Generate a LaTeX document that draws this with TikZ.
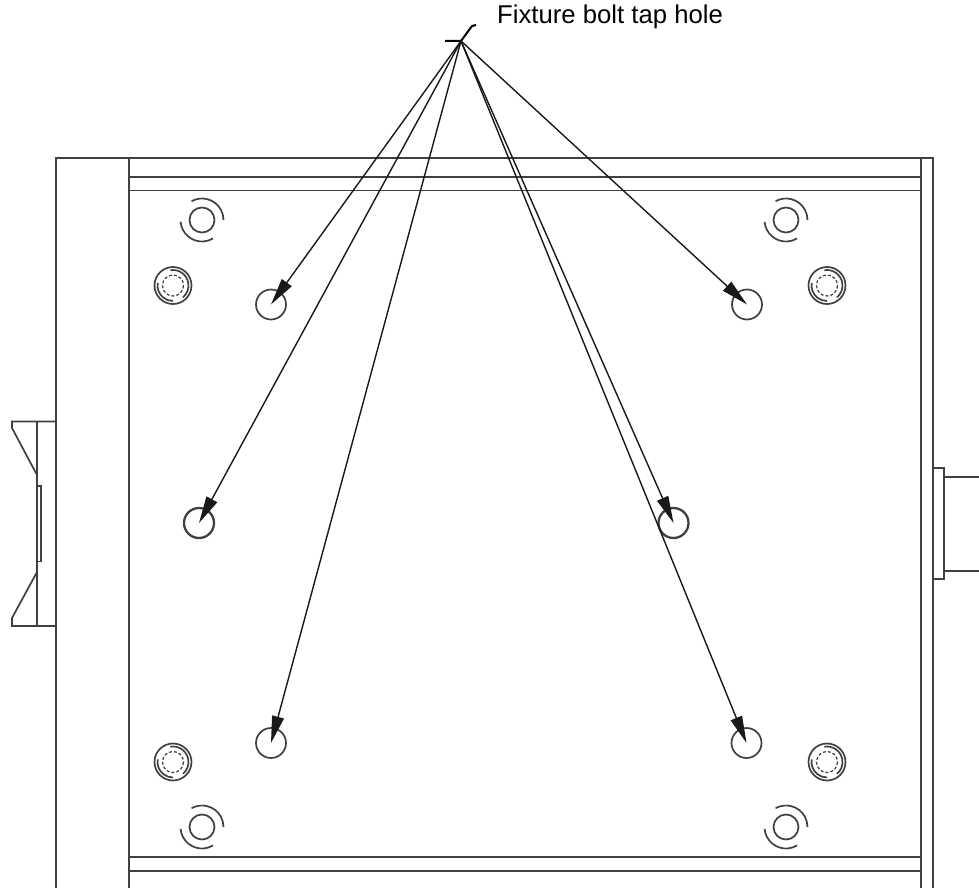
\documentclass[tikz,border=0pt]{standalone}
\usepackage{fontspec}
\setmainfont{Liberation Sans}
\usetikzlibrary{arrows.meta}
\tikzset{
  part/.style={line width=1.7pt, black!75},
  leader/.style={line width=1.4pt, black!90, -{Triangle[length=27pt,width=12pt]}},
  taphole/.style={part, circle, inner sep=0pt, minimum size=30pt},
}
\begin{document}
\begin{tikzpicture}[x=1pt,y=-1pt]
\useasboundingbox (0,0) rectangle (979,888);
% housing
\draw[part] (56,888) -- (56,158) -- (933,158) -- (933,888);
\draw[part] (129,158) -- (129,888);
\draw[part] (921,158) -- (921,888);
\draw[part] (129,177) -- (921,177);
\draw[part] (129,190.5) -- (921,190.5);
\draw[part] (129,857) -- (921,857);
\draw[part] (129,871) -- (921,871);

% left clamp
\draw[part] (56,421.5) -- (12,421.5) -- (12,428) -- (37,475);
\draw[part] (37,421.5) -- (37,626);
\draw[part] (37,486) -- (41,486) -- (41,561.5) -- (37,561.5);
\draw[part] (37,572) -- (12,618) -- (12,626) -- (56,626);

% right connector
\draw[part] (932,468) -- (944,468) -- (944,579) -- (932,579);
\draw[part] (944,477) -- (979,477);
\draw[part] (944,571) -- (979,571);

% dowel rings
\foreach \cx/\cy in {202/220, 786/220, 202/827, 786/827} {
  \draw[part] (\cx,\cy) circle[radius=12.5];
  \draw[part] (\cx,\cy) ++(119:21.5 and -21.5) arc[start angle=-119, end angle=0, radius=21.5];
  \draw[part] (\cx,\cy) ++(185:21.5 and -21.5) arc[start angle=-185, end angle=-301, radius=21.5];
}

% bolts
\foreach \cx/\cy in {173/285.5, 827/285.5, 173/762, 827/762} {
  \draw[part] (\cx,\cy) circle[radius=18.5];
  \draw[part, densely dashed, line width=1.2pt] (\cx,\cy) circle[radius=10.5];
  \draw[part] (\cx,\cy) ++(100:15.5 and -15.5) arc[start angle=-100, end angle=50, radius=15.5];
  \draw[part] (\cx,\cy) ++(170:15.5 and -15.5) arc[start angle=-170, end angle=-270, radius=15.5];
}

% tap holes
\node[taphole, draw] (topleft) at (271,304.5) {};
\node[taphole, draw] (topright) at (747,304.5) {};
\node[taphole, draw, line width=2.3pt] (midleft) at (199,523) {};
\node[taphole, draw, line width=2.3pt] (midright) at (673.5,523) {};
\node[taphole, draw] (lowleft) at (271,743) {};
\node[taphole, draw] (lowright) at (746.5,743) {};

% callout
\coordinate (apex) at (461,41);
\coordinate (stub) at (445,41);
\coordinate (knee) at (472,26);
\coordinate (kneeend) at (476,25);
\node[anchor=west, inner sep=0pt, font=\fontsize{25.7}{30}\selectfont] (holelabel) at (497,17) {Fixture bolt tap hole};
\draw[line width=2pt] (stub) -- (apex) -- (knee) -- (kneeend);
\foreach \target in {topleft, topright, midleft, midright, lowleft, lowright}
  \draw[leader] (apex) -- (\target.center);
\end{tikzpicture}
\end{document}
